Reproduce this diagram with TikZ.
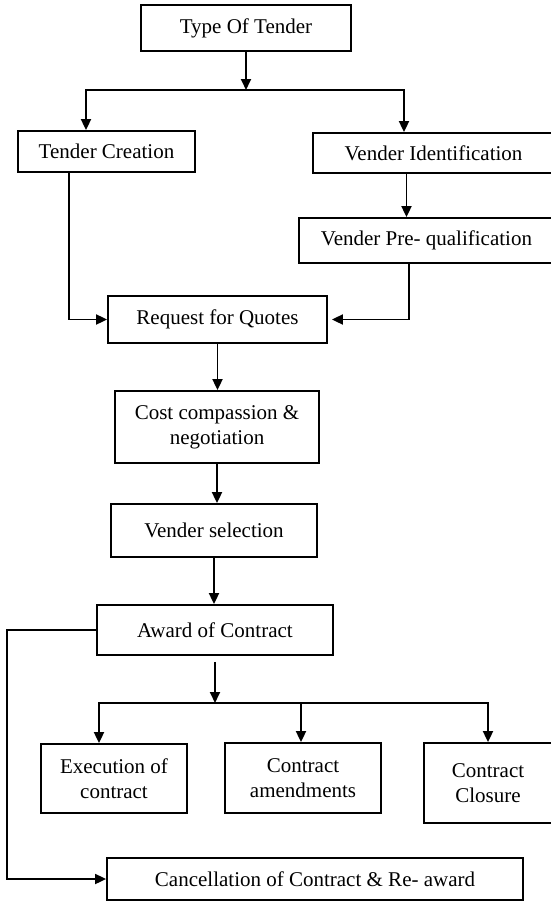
\documentclass[tikz,border=0pt]{standalone}
\usepackage{fontspec}
\setmainfont{Liberation Serif}
\usetikzlibrary{positioning,arrows.meta,calc}

\begin{document}
\begin{tikzpicture}[x=1pt, y=-1pt, line width=1.8pt,
    every node/.append style={font=\fontsize{21}{25}\selectfont},
    stage/.style={draw, rectangle, align=center, inner sep=0pt},
    arr/.style={-{Triangle[width=10pt,length=11pt]}}]
    \useasboundingbox (0,0) rectangle (551,902);
    \clip (0,0) rectangle (551,902);
    \node (tot)[stage, minimum width=210pt, minimum height=46pt] at (246,28) {Type Of Tender};
    \node (tc)[stage, minimum width=177pt, minimum height=41pt] at (106.5,151.5) {Tender Creation};
    \node (vi)[stage, minimum width=241pt, minimum height=40pt] at (433.5,153) {Vender Identification};
    \node (vpq)[stage, minimum width=255pt, minimum height=45pt] at (426.5,240.5) {Vender Pre- qualification};
    \node (rfq)[stage, minimum width=219pt, minimum height=47pt] at (217.5,319.5) {Request for Quotes};
    \node (ccn)[stage, minimum width=204pt, minimum height=72pt] at (217,427) {Cost compassion \&\\negotiation};
    \node (vs)[stage, minimum width=206pt, minimum height=53pt] at (214,530.5) {Vender selection};
    \node (aoc)[stage, minimum width=236pt, minimum height=50pt] at (215,630) {Award of Contract};
    \node (eoc)[stage, minimum width=146pt, minimum height=69pt] at (114,778.5) {Execution of\\contract};
    \node (ca)[stage, minimum width=156pt, minimum height=70pt] at (303,778) {Contract\\amendments};
    \node (cc)[stage, minimum width=128pt, minimum height=80pt] at (488,783) {Contract\\Closure};
    \node (coc)[stage, minimum width=416pt, minimum height=42pt] at (315,879) {Cancellation of Contract \& Re- award};

    \coordinate (split1) at (246,90);
    \coordinate (split2) at (215,703);

    \draw[arr] (tot) -- (split1);
    \draw ([xshift=-20.5pt]tc.north |- split1) -- ([xshift=-29.5pt]vi.north |- split1);
    \draw[arr] (split1) -| ([xshift=-20.5pt]tc.north);
    \draw[arr] (split1) -| ([xshift=-29.5pt]vi.north);
    \draw[arr] ([xshift=-27pt]vi.south) -- ([xshift=-27pt]vi.south |- vpq.north);
    \draw[arr] ([xshift=-37.5pt]tc.south) |- (rfq.west);
    \draw[arr, shorten >=4pt] ([xshift=-17.5pt]vpq.south) |- (rfq.east);
    \draw[arr] (rfq.south) -- (rfq.south |- ccn.north);
    \draw[arr] (ccn.south) -- (ccn.south |- vs.north);
    \draw[arr] (vs.south) -- (vs.south |- aoc.north);
    \draw[arr, shorten <=6pt] (aoc.south) -- (split2);
    \draw ([xshift=-15pt]eoc.north |- split2) -- (cc.north |- split2);
    \draw[arr] (split2) -| ([xshift=-15pt]eoc.north);
    \draw[arr] (split2) -| ([xshift=-2pt]ca.north);
    \draw[arr] (split2) -| (cc.north);
    \draw[arr] (aoc.west) -- ++(-89,0) |- (coc.west);
\end{tikzpicture}
\end{document}
